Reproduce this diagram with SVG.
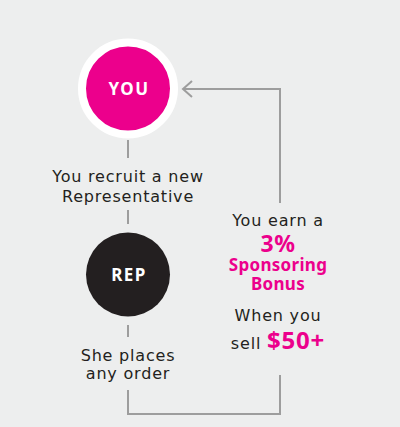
<svg xmlns="http://www.w3.org/2000/svg" width="400" height="427" viewBox="0 0 400 427">
<style>
.t{font-family:"DejaVu Sans","Noto Sans",sans-serif;font-size:16px;fill:#231f20;text-anchor:middle;letter-spacing:0.8px}
.p{font-family:"Noto Sans","Liberation Sans",sans-serif;font-weight:700;fill:#ec008c;text-anchor:middle}
.c{font-family:"Noto Sans","Liberation Sans",sans-serif;font-weight:700;font-size:17px;fill:#fff;text-anchor:middle;letter-spacing:1.5px}
.ln{stroke:#9d9d9d;stroke-width:2;fill:none}
</style>
<rect width="400" height="427" fill="#edeeee"/>
<g id="connectors">
<line class="ln" x1="128" y1="140" x2="128" y2="158"/>
<line class="ln" x1="128" y1="210" x2="128" y2="224"/>
<line class="ln" x1="128" y1="325" x2="128" y2="337"/>
<polyline class="ln" points="128,390 128,414 280,414 280,375"/>
<polyline class="ln" points="280,203 280,89 183,89"/>
<polyline class="ln" points="192,81 183,89 192,97"/>
</g>
<g id="you">
<circle cx="128" cy="88.5" r="46" fill="#ec008c" stroke="#fff" stroke-width="8"/>
<text class="c" x="129" y="94.5">YOU</text>
</g>
<g id="recruit">
<text class="t" x="128" y="182">You recruit a new</text>
<text class="t" x="128" y="202">Representative</text>
</g>
<g id="rep">
<circle cx="128" cy="274.5" r="42" fill="#231f20"/>
<text class="c" x="129" y="280.5">REP</text>
</g>
<g id="order">
<text class="t" x="128" y="361">She places</text>
<text class="t" x="128" y="379">any order</text>
</g>
<g id="bonus">
<text class="t" x="278" y="226">You earn a</text>
<text class="p" x="278" y="252" font-size="23" letter-spacing="0.5">3%</text>
<text class="p" x="278" y="271" font-size="17" letter-spacing="0.3">Sponsoring</text>
<text class="p" x="278" y="290" font-size="17" letter-spacing="0.3">Bonus</text>
<text class="t" x="278" y="321">When you</text>
<text class="t" x="278" y="349"><tspan>sell </tspan><tspan class="p" font-size="24" letter-spacing="0.8">$50+</tspan></text>
</g>
</svg>
